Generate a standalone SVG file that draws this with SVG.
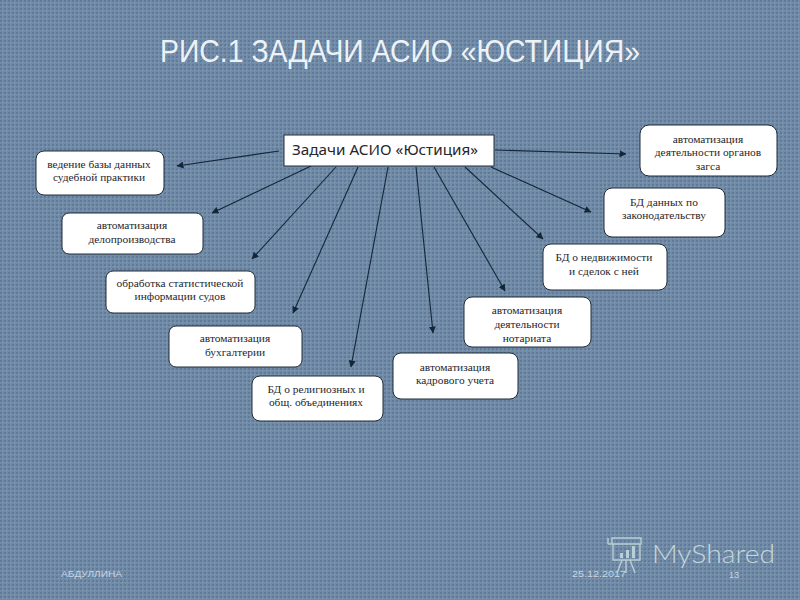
<svg xmlns="http://www.w3.org/2000/svg" width="800" height="600" viewBox="0 0 800 600">
<style>
.n{fill:#fff;stroke:#1f2a38;stroke-width:1}
.t{font-family:"Liberation Serif",serif;font-size:11.4px;fill:#26262c;text-anchor:middle}
.c{stroke:#14263a;stroke-width:1.1;fill:none;marker-end:url(#a)}
.f{font-family:"Liberation Sans",sans-serif;font-size:9.5px;fill:#c8d6e2}
.w{fill:none;stroke:#b9d0d6;stroke-width:1.4}
</style>
<defs>
<pattern id="bg" width="4" height="4" patternUnits="userSpaceOnUse">
<rect width="4" height="4" fill="#728ba6"/>
<rect x="0" y="0" width="2" height="2" fill="#61799a"/>
<rect x="2" y="2" width="1" height="1" fill="#86a1ba"/>
</pattern>
<marker id="a" markerWidth="7" markerHeight="7" refX="6.5" refY="3.5" orient="auto" markerUnits="userSpaceOnUse"><path d="M0 0L7 3.5L0 7Z" fill="#14263a"/></marker>
</defs>
<rect width="800" height="600" fill="url(#bg)"/>
<text x="160" y="62" textLength="480" lengthAdjust="spacingAndGlyphs" style="font-family:'Liberation Sans',sans-serif;font-size:31px;fill:#edf2f6">РИС.1 ЗАДАЧИ АСИО «ЮСТИЦИЯ»</text>
<g id="connectors">
<line class="c" x1="279" y1="151" x2="177" y2="166"/>
<line class="c" x1="311" y1="166" x2="212" y2="213"/>
<line class="c" x1="336" y1="167" x2="252" y2="259"/>
<line class="c" x1="358" y1="167" x2="293" y2="313"/>
<line class="c" x1="388" y1="167" x2="351" y2="367"/>
<line class="c" x1="416" y1="167" x2="433" y2="333"/>
<line class="c" x1="434" y1="167" x2="505" y2="291"/>
<line class="c" x1="465" y1="167" x2="543" y2="239"/>
<line class="c" x1="491" y1="167" x2="591" y2="212"/>
<line class="c" x1="495" y1="150" x2="626" y2="154"/>
</g>
<g id="center"><rect x="284" y="135" width="210" height="31" fill="#fff" stroke="#1f2a38"/><text x="292" y="155" textLength="186" lengthAdjust="spacingAndGlyphs" style="font-family:'Noto Sans','Open Sans',sans-serif;font-size:14px;fill:#26262c">Задачи АСИО «Юстиция»</text></g>
<g id="n1"><rect class="n" x="36" y="151" width="128" height="44" rx="8"/><text class="t" x="99" y="168">ведение базы данных</text><text class="t" x="99" y="181">судебной практики</text></g>
<g id="n2"><rect class="n" x="62" y="213" width="141" height="41" rx="7"/><text class="t" x="132" y="229">автоматизация</text><text class="t" x="132" y="243">делопроизводства</text></g>
<g id="n3"><rect class="n" x="106" y="271" width="149" height="42" rx="7"/><text class="t" x="180" y="287">обработка статистической</text><text class="t" x="180" y="300">информации судов</text></g>
<g id="n4"><rect class="n" x="169" y="326" width="133" height="41" rx="7"/><text class="t" x="235" y="342">автоматизация</text><text class="t" x="235" y="356">бухгалтерии</text></g>
<g id="n5"><rect class="n" x="252" y="376" width="131" height="45" rx="8"/><text class="t" x="316" y="393">БД о религиозных и</text><text class="t" x="316" y="406">общ. объединениях</text></g>
<g id="n6"><rect class="n" x="393" y="353" width="125" height="46" rx="8"/><text class="t" x="455" y="371">автоматизация</text><text class="t" x="455" y="384">кадрового учета</text></g>
<g id="n7"><rect class="n" x="464" y="297" width="127" height="50" rx="8"/><text class="t" x="527" y="314">автоматизация</text><text class="t" x="527" y="328">деятельности</text><text class="t" x="527" y="342">нотариата</text></g>
<g id="n8"><rect class="n" x="543" y="244" width="124" height="46" rx="8"/><text class="t" x="604" y="261">БД о недвижимости</text><text class="t" x="604" y="275">и сделок с ней</text></g>
<g id="n9"><rect class="n" x="604" y="188" width="121" height="49" rx="8"/><text class="t" x="664" y="206">БД данных по</text><text class="t" x="664" y="219">законодательству</text></g>
<g id="n10"><rect class="n" x="640" y="125" width="137" height="51" rx="9"/><text class="t" x="708" y="143">автоматизация</text><text class="t" x="708" y="156">деятельности органов</text><text class="t" x="708" y="170">загса</text></g>
<text class="f" x="61" y="577" textLength="61" lengthAdjust="spacingAndGlyphs">АБДУЛЛИНА</text>
<text class="f" x="572" y="577" textLength="54" lengthAdjust="spacingAndGlyphs">25.12.2017</text>
<text class="f" x="729" y="577.5" textLength="10" lengthAdjust="spacingAndGlyphs">13</text>
<path class="w" d="M612 538H641V544H612ZM608 544H612M608 538V544M613 544V560H640V544M622 560L617 573M630 560L635 573M626 560V573"/>
<path d="M620 553h3v5h-3zM626 550h3v8h-3zM632 546h3v12h-3z" fill="#b9d0d6"/>
<text x="652" y="563" textLength="123" lengthAdjust="spacingAndGlyphs" style="font-family:'Lato','Open Sans',sans-serif;font-size:26px;fill:#c3d8dc;font-weight:300">MyShared</text>
</svg>
